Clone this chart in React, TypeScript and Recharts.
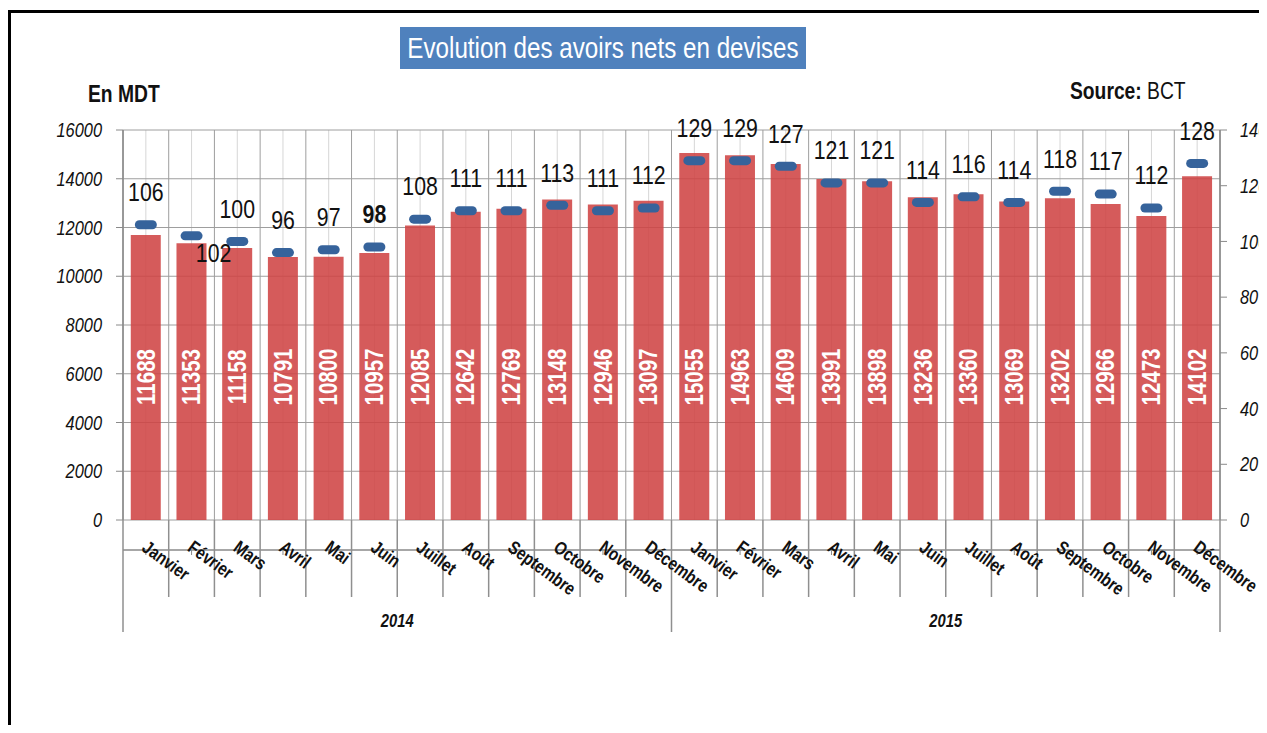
import React from 'react';
import { ComposedChart, Bar, Line, XAxis, YAxis, CartesianGrid, LabelList } from 'recharts';

const months = ['Janvier', 'Février', 'Mars', 'Avril', 'Mai', 'Juin', 'Juillet', 'Août', 'Septembre', 'Octobre', 'Novembre', 'Décembre'];
const years = ['2014', '2015'];
const avoirs = [11688, 11353, 11158, 10791, 10800, 10957, 12085, 12642, 12769, 13148, 12946, 13097,
  15055, 14963, 14609, 13991, 13898, 13236, 13360, 13069, 13202, 12966, 12473, 14102];
const jours = [106, 102, 100, 96, 97, 98, 108, 111, 111, 113, 111, 112,
  129, 129, 127, 121, 121, 114, 116, 114, 118, 117, 112, 128];
const leftTicks = [0, 2000, 4000, 6000, 8000, 10000, 12000, 14000, 16000];
const rightTicks = [0, 20, 40, 60, 80, 100, 120, 140];
const boundaryTicks = Array.from({ length: 25 }, (_, i) => i);
const centerTicks = Array.from({ length: 24 }, (_, i) => i + 0.5);

const data = avoirs.map((v, i) => ({
  key: `${months[i % 12]} ${years[Math.floor(i / 12)]}`,
  month: months[i % 12],
  year: years[Math.floor(i / 12)],
  avoirs: v,
  jours: jours[i],
  pos: i + 0.5,
}));

const W = 1267;
const H = 733;
const MARGIN = { top: 129, right: 0, bottom: 88, left: 40 };
const X_M_H = 85;
const X_Y_H = 40;
const PLOT_BOTTOM = H - MARGIN.bottom - X_M_H - X_Y_H;
const NARROW = 0.82;

const FONT = '"Liberation Sans", Arial, sans-serif';

const NText = (props: any) => {
  const { x, y, angle = 0, children, ...rest } = props;
  return (
    <g transform={`translate(${x} ${y}) rotate(${angle}) scale(${NARROW} 1)`}>
      <text x={0} y={0} fontFamily={FONT} {...rest}>{children}</text>
    </g>
  );
};

const BoundaryTick = (props: any) => {
  const { x, payload } = props;
  const v = payload.value;
  const len = v % 12 === 0 ? 112 : 77;
  return <line x1={x} x2={x} y1={PLOT_BOTTOM} y2={PLOT_BOTTOM + len} stroke="#8f8f8f" strokeWidth={1.5} />;
};

const MonthTick = (props: any) => {
  const { x, payload } = props;
  const label = String(payload.value).split(' ')[0];
  return (
    <NText x={x - 5} y={PLOT_BOTTOM + 30} angle={36} textAnchor="start" fontWeight="bold" fontSize={18.5} fill="#111">
      {label}
    </NText>
  );
};

const YearTick = (props: any) => {
  const { x, payload } = props;
  return (
    <NText x={x} y={PLOT_BOTTOM + 100} textAnchor="middle" dominantBaseline="central" fontStyle="italic" fontWeight="bold" fontSize={18} fill="#111">
      {payload.value}
    </NText>
  );
};

const LeftTick = (props: any) => {
  const { x, y, payload } = props;
  return (
    <NText x={x} y={y} textAnchor="end" dominantBaseline="central" fontStyle="italic" fontSize={20} fill="#111">
      {payload.value}
    </NText>
  );
};

const RightTick = (props: any) => {
  const { x, y, payload } = props;
  return (
    <NText x={x} y={y} textAnchor="start" dominantBaseline="central" fontStyle="italic" fontSize={20} fill="#111">
      {payload.value}
    </NText>
  );
};

const BarValueLabel = (props: any) => {
  const { x, y, width, height, value } = props;
  const cx = x + width / 2;
  const cy = y + height - 143;
  return (
    <NText x={cx} y={cy} angle={-90} textAnchor="middle" dominantBaseline="central" fill="#ffffff" fontWeight="bold" fontSize={25}>
      {value}
    </NText>
  );
};

const JoursLabel = (props: any) => {
  const { x, y, value, index } = props;
  let dx = 0;
  let dy = -33;
  if (index === 1) {
    dx = 22;
    dy = 17;
  }
  return (
    <NText x={x + dx} y={y + dy} textAnchor="middle" dominantBaseline="central" fontSize={26} fontWeight={index === 5 ? 'bold' : 'normal'} fill="#111">
      {value}
    </NText>
  );
};

const renderDash = (p: any) => (
  <rect key={`d-${p.index}`} x={p.cx - 11} y={p.cy - 4.5} width={22} height={9} rx={4.5} fill="#36639B" />
);

const narrowSpan = (origin: string): React.CSSProperties => ({
  display: 'inline-block',
  transform: `scaleX(${NARROW})`,
  transformOrigin: origin,
});

export default function App() {
  return (
    <div style={{ position: 'relative', width: W, height: H, margin: -8, overflow: 'hidden', background: '#fff' }}>
      <div style={{ position: 'absolute', left: 8, top: 10, width: 1400, height: 900, border: '3px solid #000', boxSizing: 'border-box' }} />
      <div style={{ position: 'absolute', left: 0, top: 0 }}>
        <ComposedChart width={W} height={H} data={data} margin={MARGIN} barCategoryGap="17%">
          <XAxis xAxisId="b" type="number" dataKey="pos" domain={[0, 24]} ticks={boundaryTicks} orientation="top" height={1} axisLine={false} tickLine={false} tick={<BoundaryTick />} interval={0} allowDataOverflow />
          <XAxis xAxisId="c" type="number" dataKey="pos" domain={[0, 24]} ticks={centerTicks} hide allowDataOverflow />
          <CartesianGrid xAxisId="c" yAxisId="l" horizontal={false} vertical stroke="#d6d6d6" strokeWidth={1} />
          <CartesianGrid xAxisId="b" yAxisId="l" horizontal vertical stroke="#9e9e9e" strokeWidth={1} />
          <XAxis xAxisId="m" dataKey="key" height={X_M_H} interval={0} tick={<MonthTick />} tickSize={5} axisLine={{ stroke: '#8a8a8a', strokeWidth: 1.5 }} tickLine={{ stroke: '#8a8a8a' }} />
          <XAxis xAxisId="y" dataKey="year" allowDuplicatedCategory={false} height={X_Y_H} axisLine={false} tickLine={false} tick={<YearTick />} interval={0} />
          <YAxis yAxisId="l" orientation="left" width={83} domain={[0, 16000]} ticks={leftTicks} interval={0} tickSize={7} tickMargin={14}
            axisLine={{ stroke: '#8a8a8a', strokeWidth: 1.5 }} tickLine={{ stroke: '#8a8a8a' }} tick={<LeftTick />} />
          <YAxis yAxisId="r" orientation="right" width={47} domain={[0, 140]} ticks={rightTicks} interval={0} tickSize={7} tickMargin={13}
            axisLine={{ stroke: '#8a8a8a', strokeWidth: 1.5 }} tickLine={{ stroke: '#8a8a8a' }} tick={<RightTick />} />
          <Bar xAxisId="m" yAxisId="l" dataKey="avoirs" fill="#CF4444" fillOpacity={0.88} isAnimationActive={false}>
            <LabelList dataKey="avoirs" content={<BarValueLabel />} />
          </Bar>
          <Line xAxisId="m" yAxisId="r" dataKey="jours" stroke="none" dot={renderDash} activeDot={false} isAnimationActive={false}>
            <LabelList dataKey="jours" content={<JoursLabel />} />
          </Line>
        </ComposedChart>
      </div>
      <div style={{ position: 'absolute', left: 400, top: 27, width: 406, height: 42, background: '#4F81BD', color: '#fff', fontFamily: FONT, fontSize: 29.5, lineHeight: '42px', whiteSpace: 'nowrap' }}>
        <span style={{ position: 'absolute', left: '50%', top: 0, whiteSpace: 'nowrap', transform: `translateX(-50%) scaleX(${NARROW})`, transformOrigin: 'center' }}>
          Evolution des avoirs nets en devises
        </span>
      </div>
      <div style={{ position: 'absolute', left: 88, top: 80, fontFamily: FONT, fontSize: 23.5, fontWeight: 'bold', lineHeight: '28px', color: '#111', whiteSpace: 'nowrap' }}>
        <span style={narrowSpan('left')}>En MDT</span>
      </div>
      <div style={{ position: 'absolute', left: 1070, top: 77, fontFamily: FONT, fontSize: 23.5, lineHeight: '28px', color: '#111', whiteSpace: 'nowrap' }}>
        <span style={narrowSpan('left')}><b>Source:</b> BCT</span>
      </div>
    </div>
  );
}
